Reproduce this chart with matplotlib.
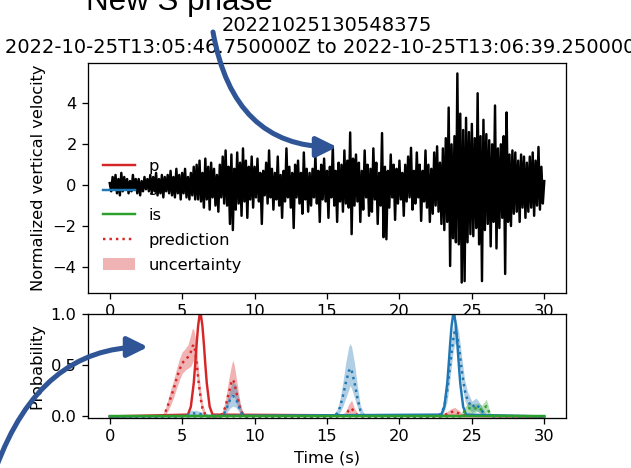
import matplotlib
matplotlib.use("Agg")
import matplotlib.pyplot as plt
import numpy as np
from matplotlib.lines import Line2D
from matplotlib.patches import Patch, FancyArrowPatch, ArrowStyle

# vertical trace, 0.1 s samples, 0 - 30 s (one row = 1 s)
wave = [
    0.1, -0.3, 0.4, -0.2, 0.5, -0.4, 0.3, -0.5, 0.6, -0.3,
    0.4, -0.2, 0.3, -0.4, 0.2, -0.3, 0.5, -0.2, 0.3, -0.4,
    0.3, -0.5, 0.2, -0.3, 0.4, -0.2, 0.3, -0.3, 0.5, -0.4,
    0.4, -0.3, 0.6, -0.5, 0.3, -0.4, 0.5, -0.6, 0.4, -0.3,
    0.5, -0.4, 0.7, -0.5, 0.4, -0.6, 0.8, -0.4, 0.5, -0.7,
    0.6, -0.4, 0.8, -0.6, 0.4, -0.7, 0.6, -0.5, 0.9, -0.7,
    1.0, -0.7, 1.2, -0.8, 0.6, -1.1, 1.3, -0.7, 0.9, -1.2,
    1.1, -0.6, 0.8, -1.0, 0.5, -1.3, 1.0, -0.6, 1.4, -0.9,
    1.7, -1.0, 0.9, -1.9, 1.5, -2.2, 0.8, -1.2, 1.6, -0.9,
    1.1, -1.5, 1.8, -0.8, 1.2, -1.6, 0.9, -0.7, 1.4, -1.1,
    0.9, -0.6, 1.3, -0.8, 0.6, -1.9, 0.7, -0.5, 1.1, -0.9,
    1.7, -0.6, 0.8, -1.2, 0.6, -0.7, 1.4, -1.0, 0.5, -1.6,
    0.7, -0.8, 1.8, -0.6, 0.9, -1.1, 0.6, -2.1, 1.0, -0.6,
    1.2, -0.9, 0.6, -1.4, 1.6, -0.7, 0.8, -1.3, 0.6, -1.0,
    0.8, -0.6, 1.5, -0.9, 0.7, -1.8, 1.0, -0.7, 1.3, -0.8,
    0.7, -1.6, 0.9, -0.6, 1.9, -1.0, 0.7, -1.8, 1.1, -0.8,
    1.0, -1.3, 1.7, -0.9, 1.2, -1.1, 2.58, -2.4, 1.3, -1.0,
    1.5, -0.8, 1.1, -1.8, 0.7, -1.2, 1.7, -0.6, 1.0, -1.5,
    0.8, -1.3, 1.8, -0.7, 1.1, -1.9, 0.6, -1.0, 2.55, -2.55,
    0.9, -2.65, 0.7, -1.1, 1.5, -0.6, 1.0, -1.7, 0.8, -0.9,
    1.2, -0.7, 0.6, -1.5, 1.0, -0.8, 1.4, -0.6, 1.83, -1.2,
    0.7, -0.9, 1.6, -0.6, 1.0, -1.75, 0.7, -0.8, 1.7, -1.1,
    1.0, -1.8, 0.8, -1.4, 1.6, -1.0, 1.9, -1.3, 1.1, -1.9,
    1.8, -2.2, 2.3, -1.8, 3.8, -3.96, 2.0, -2.6, 2.4, -2.8,
    5.47, -2.9, 3.5, -4.77, 2.7, -4.7, 3.3, -2.8, 2.6, -2.4,
    3.0, -2.5, 2.3, -2.1, 4.5, -2.9, 2.4, -4.7, 3.2, -2.2,
    2.5, -1.9, 2.2, -3.0, 2.0, -1.8, 3.9, -3.1, 1.8, -2.1,
    2.0, -1.6, 2.4, -4.35, 3.56, -1.8, 1.5, -2.0, 1.7, -1.4,
    1.6, -1.3, 1.2, -1.8, 1.5, -1.1, 1.4, -1.6, 1.1, -1.3,
    1.4, -1.1, 1.6, -1.5, 1.2, -1.0, 1.87, -1.2, 0.9, -0.9,
    0.2,
]

# labels (solid)
p_t = [0, 5.4, 5.6, 5.8, 5.9, 6.0, 6.1, 6.2, 6.25, 6.3, 6.4, 6.5, 6.6, 6.7, 6.9, 7.1, 30]
p_lab = [0, 0.018, 0.095, 0.325, 0.506, 0.707, 0.882, 0.986, 1.0, 0.986, 0.882, 0.707, 0.506, 0.325, 0.095, 0.018, 0]
s_t = [0, 22.9, 23.1, 23.3, 23.4, 23.5, 23.6, 23.7, 23.75, 23.8, 23.9, 24.0, 24.1, 24.2, 24.4, 24.6, 30]
s_lab = [0, 0.018, 0.095, 0.325, 0.506, 0.707, 0.882, 0.986, 1.0, 0.986, 0.882, 0.707, 0.506, 0.325, 0.095, 0.018, 0]
is_t = [0, 30]
is_lab = [0, 0]

# predictions: mean and spread
pp_t = [0, 3.6, 3.8, 4.0, 4.2, 4.4, 4.6, 4.8, 5.0, 5.2, 5.4, 5.6, 5.7, 5.8, 5.9, 6.0, 6.1, 6.2,
        6.3, 6.4, 6.6, 6.8, 7.0, 7.6, 7.8, 8.0, 8.2, 8.4, 8.5, 8.6, 8.8, 9.0, 9.2, 9.4, 9.6, 10,
        16.0, 16.3, 16.5, 16.7, 16.9, 17.2, 22.8, 23.2, 23.5, 23.8, 24.1, 24.4, 30]
pp_mean = [0, 0, 0.03, 0.10, 0.18, 0.26, 0.36, 0.45, 0.52, 0.55, 0.58, 0.63, 0.68, 0.70, 0.64, 0.52, 0.38, 0.26,
           0.16, 0.08, 0.02, 0, 0, 0, 0.03, 0.10, 0.22, 0.33, 0.36, 0.33, 0.20, 0.08, 0.02, 0.0, 0, 0,
           0, 0.02, 0.06, 0.08, 0.04, 0, 0, 0.02, 0.04, 0.05, 0.03, 0.01, 0]
pp_hi = [0, 0.01, 0.06, 0.16, 0.26, 0.35, 0.46, 0.56, 0.63, 0.66, 0.70, 0.80, 0.86, 0.85, 0.78, 0.66, 0.50, 0.36,
         0.24, 0.13, 0.04, 0.01, 0, 0.01, 0.06, 0.17, 0.35, 0.50, 0.55, 0.50, 0.32, 0.14, 0.04, 0.01, 0, 0,
         0.01, 0.05, 0.12, 0.16, 0.08, 0.01, 0.01, 0.04, 0.07, 0.09, 0.06, 0.02, 0]
pp_lo = [0, 0, 0.01, 0.05, 0.11, 0.18, 0.27, 0.35, 0.42, 0.45, 0.47, 0.49, 0.52, 0.55, 0.50, 0.39, 0.27, 0.17,
         0.09, 0.04, 0, 0, 0, 0, 0.01, 0.05, 0.12, 0.20, 0.22, 0.20, 0.11, 0.04, 0, 0, 0, 0,
         0, 0, 0.02, 0.03, 0.01, 0, 0, 0, 0.02, 0.02, 0.01, 0, 0]

sp_t = [0, 5.2, 5.6, 6.0, 6.4, 6.8, 7.6, 7.9, 8.1, 8.3, 8.5, 8.7, 8.9, 9.1, 9.4,
        15.4, 15.7, 15.9, 16.1, 16.3, 16.5, 16.6, 16.7, 16.9, 17.1, 17.3, 17.6,
        22.6, 22.9, 23.1, 23.3, 23.5, 23.7, 23.8, 23.9, 24.1, 24.3, 24.5, 24.7, 25.0, 25.3, 25.6, 25.9, 26.2, 30]
sp_mean = [0, 0, 0.03, 0.03, 0.02, 0, 0, 0.03, 0.09, 0.16, 0.20, 0.18, 0.10, 0.03, 0,
           0, 0.03, 0.09, 0.20, 0.33, 0.44, 0.47, 0.45, 0.33, 0.18, 0.06, 0,
           0, 0.03, 0.10, 0.25, 0.50, 0.74, 0.82, 0.84, 0.70, 0.45, 0.26, 0.16, 0.09, 0.12, 0.07, 0.02, 0, 0]
sp_hi = [0, 0.01, 0.06, 0.06, 0.04, 0.01, 0, 0.06, 0.16, 0.27, 0.34, 0.31, 0.18, 0.06, 0.01,
         0.01, 0.07, 0.17, 0.34, 0.53, 0.68, 0.71, 0.68, 0.52, 0.30, 0.11, 0.01,
         0.01, 0.06, 0.16, 0.35, 0.62, 0.86, 0.93, 0.95, 0.82, 0.58, 0.36, 0.24, 0.15, 0.18, 0.12, 0.04, 0.01, 0]
sp_lo = [0, 0, 0.01, 0.01, 0, 0, 0, 0.01, 0.04, 0.08, 0.10, 0.09, 0.05, 0.01, 0,
         0, 0.01, 0.04, 0.10, 0.18, 0.26, 0.30, 0.27, 0.18, 0.09, 0.02, 0,
         0, 0.01, 0.05, 0.15, 0.38, 0.62, 0.70, 0.72, 0.58, 0.33, 0.16, 0.09, 0.04, 0.06, 0.03, 0, 0, 0]

ip_t = [0, 24.2, 24.5, 24.8, 25.1, 25.4, 25.7, 26.0, 26.3, 30]
ip_mean = [0, 0, 0.05, 0.08, 0.07, 0.09, 0.06, 0.10, 0.01, 0]
ip_hi = [0, 0.01, 0.09, 0.14, 0.12, 0.13, 0.11, 0.17, 0.02, 0]
ip_lo = [0, 0, 0.02, 0.03, 0.03, 0.05, 0.02, 0.04, 0, 0]

title = "20221025130548375\n2022-10-25T13:05:46.750000Z to 2022-10-25T13:06:39.250000Z"

W, H, DPI = 631, 468, 117
fig = plt.figure(figsize=(W / DPI, H / DPI), dpi=DPI)

ax = fig.add_axes([88 / W, 1 - 293 / H, 478 / W, 230 / H])
t = np.linspace(0, 30, len(wave))
ax.plot(t, wave, 'k-')
ax.set_ylabel('Normalized vertical velocity')
ax.set_title(title)

handles = [
    Line2D([], [], color='tab:red', label='p'),
    Line2D([], [], color='tab:blue', label='s'),
    Line2D([], [], color='tab:green', label='is'),
    Line2D([], [], color='tab:red', ls=':', label='prediction'),
    Patch(facecolor='tab:red', alpha=0.35, label='uncertainty'),
]
ax.legend(handles=handles, loc='lower left', bbox_to_anchor=(0, 0.025),
          frameon=False, labelspacing=0.6)

ax2 = fig.add_axes([88 / W, 1 - 418 / H, 478 / W, 104 / H])
ax2.set_facecolor('white')
cols = ['tab:red', 'tab:blue', 'tab:green']
labs = [(p_t, p_lab), (s_t, s_lab), (is_t, is_lab)]
preds = [(pp_t, pp_mean, pp_lo, pp_hi), (sp_t, sp_mean, sp_lo, sp_hi), (ip_t, ip_mean, ip_lo, ip_hi)]
for c, (lt, lv), (qt, qm, qlo, qhi) in zip(cols, labs, preds):
    ax2.plot(lt, lv, '-', color=c)
    ax2.plot(qt, qm, ':', color=c)
    ax2.fill_between(qt, qlo, qhi, color=c, alpha=0.35, lw=0)
ax2.set_xlim(ax.get_xlim())
ax2.set_ylim(-0.015, 1.0)
ax2.set_ylabel('Probability')
ax2.set_xlabel('Time (s)')

# annotations
fig.text(86.5 / W, 1 - 10 / H, 'New S phase', fontsize=19.3, family='Liberation Sans',
         va='baseline', ha='left')

blue = '#2F5597'
style = ArrowStyle('-|>', head_length=10.5, head_width=5.2)


def fpos(x, y):
    return (x / W, 1 - y / H)


a1 = FancyArrowPatch(fpos(213, 32), fpos(337, 147), transform=fig.transFigure,
                     connectionstyle='angle3,angleA=-80,angleB=0', arrowstyle=style,
                     color=blue, lw=3.1, shrinkA=0, shrinkB=0)
a2 = FancyArrowPatch(fpos(-4, 468), fpos(148, 347), transform=fig.transFigure,
                     connectionstyle='angle3,angleA=70,angleB=0', arrowstyle=style,
                     color=blue, lw=3.1, shrinkA=0, shrinkB=0)
fig.patches.extend([a1, a2])

fig.savefig('out.png', dpi=DPI)
